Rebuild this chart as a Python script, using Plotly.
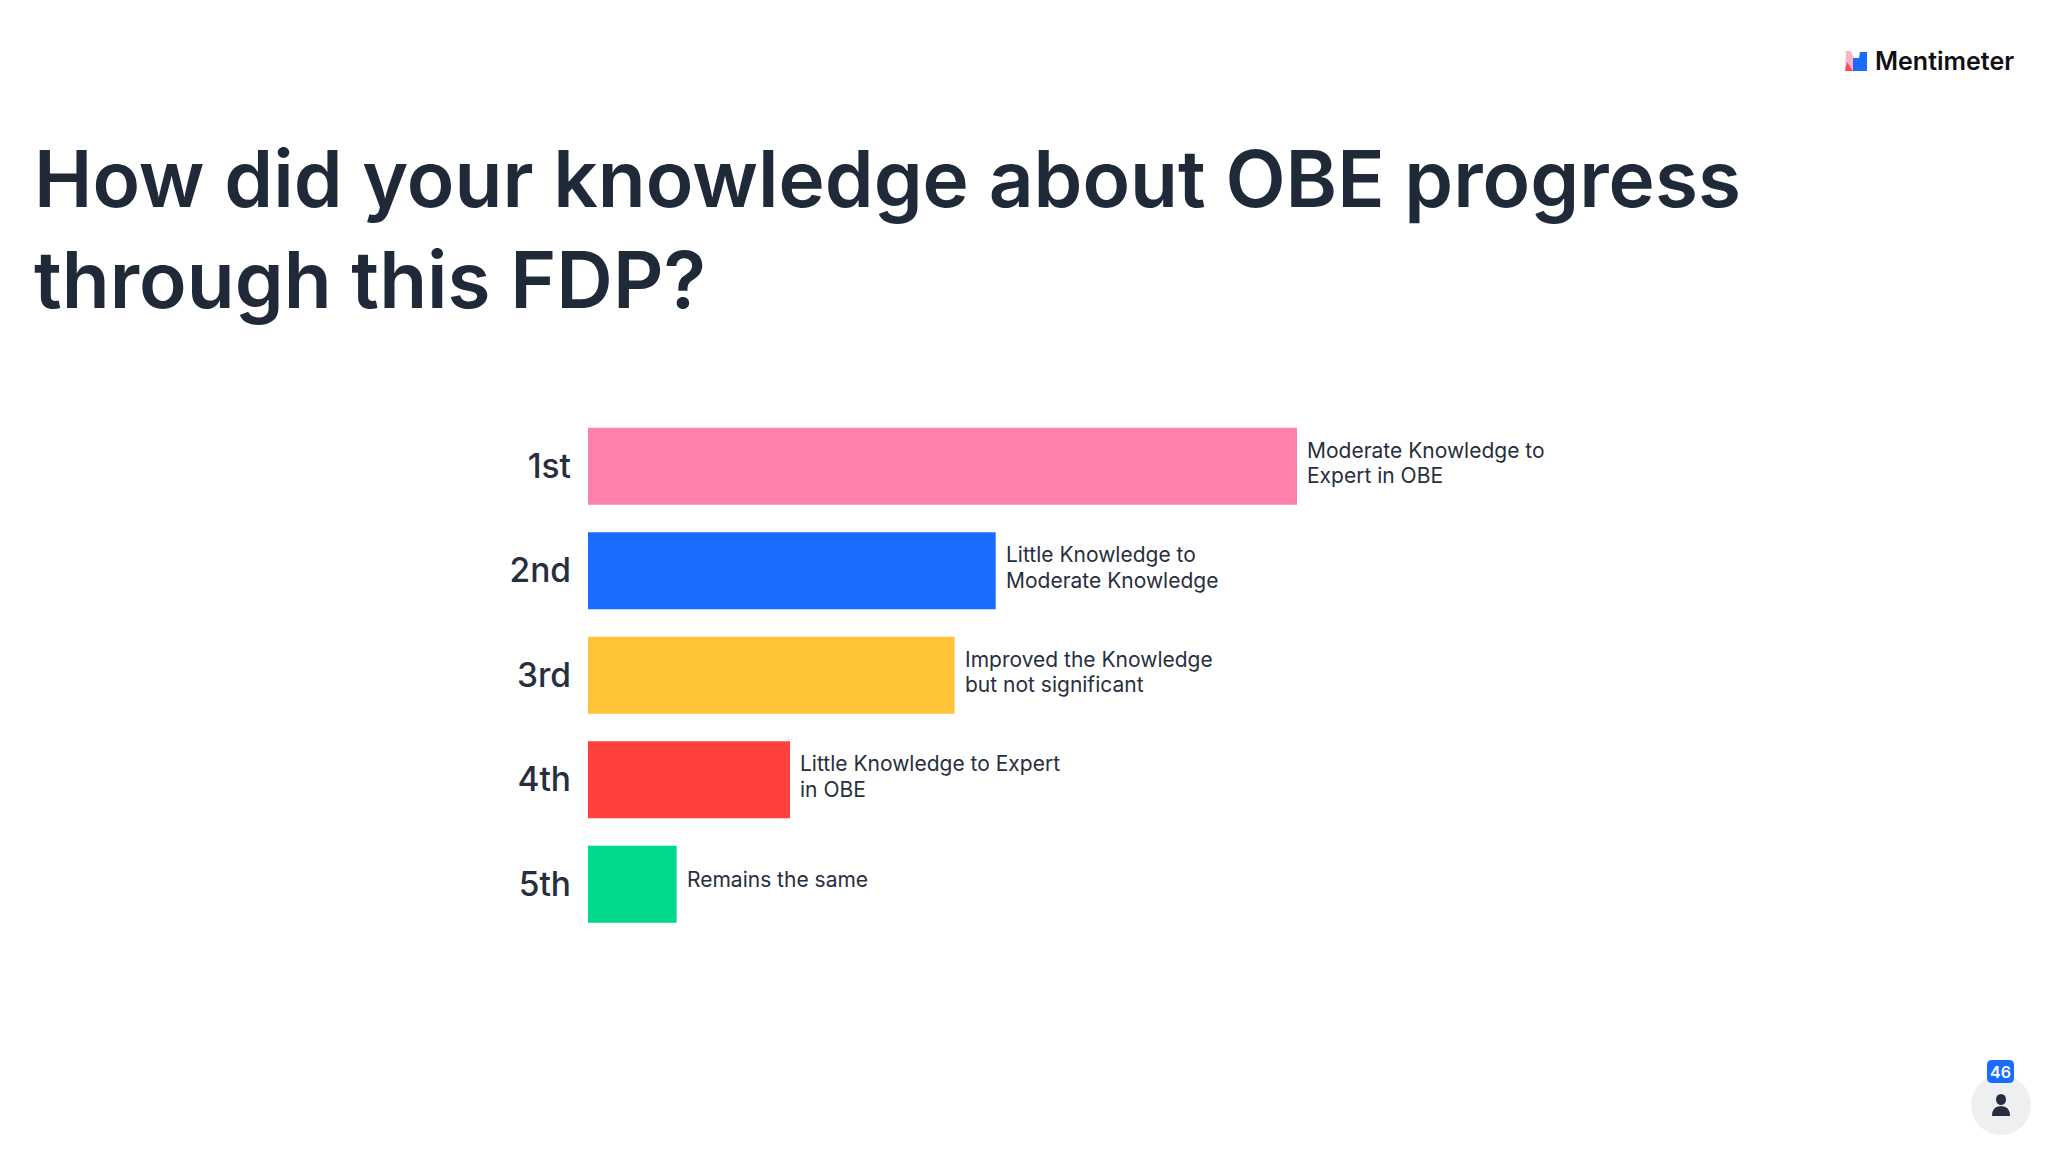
import plotly.graph_objects as go

W, H = 2048, 1152

ranks = ["1st", "2nd", "3rd", "4th", "5th"]
scores = [100.0, 57.5, 51.7, 28.5, 12.5]
label_lines = [
    ["Moderate Knowledge to", "Expert in OBE"],
    ["Little Knowledge to", "Moderate Knowledge"],
    ["Improved the Knowledge", "but not significant"],
    ["Little Knowledge to Expert", "in OBE"],
    ["Remains the same"],
]
colors = ["#ff80ab", "#196cff", "#ffc337", "#ff403d", "#00d98b"]
title_text = "How did your knowledge about OBE progress<br>through this FDP?"
respondents = "46"

FONT = "Inter"
INK = "#272f3e"


def px(x):
    return x / W


def py(y):
    return 1 - y / H


def path(points):
    return "M " + " L ".join(f"{px(x):.5f},{py(y):.5f}" for x, y in points) + " Z"


fig = go.Figure(
    go.Bar(
        x=scores,
        y=ranks,
        orientation="h",
        marker=dict(color=colors, line_width=0),
        width=0.735,
        hoverinfo="skip",
    )
)

annotations = []
for rank, score, lines in zip(ranks, scores, label_lines):
    shifts = [16, -9.5] if len(lines) == 2 else [4.5]
    for line, shift in zip(lines, shifts):
        annotations.append(
            dict(
                x=score, y=rank, xref="x", yref="y", text=line, showarrow=False,
                xanchor="left", yanchor="middle", align="left", xshift=8, yshift=shift,
                font=dict(family=FONT, size=21, color=INK),
            )
        )
annotations += [
    dict(
        x=px(1873), y=py(61.5), xref="paper", yref="paper", text="Mentimeter",
        showarrow=False, xanchor="left", yanchor="middle",
        font=dict(family=FONT, size=25, color="#101014", weight=600),
    ),
    dict(
        x=px(2000.5), y=py(1072), xref="paper", yref="paper", text=respondents,
        showarrow=False, xanchor="center", yanchor="middle",
        font=dict(family=FONT, size=16, color="#ffffff", weight=600),
    ),
]


def rounded(x0, y0, x1, y1, r):
    return (
        f"M {px(x0 + r):.5f},{py(y1):.5f} L {px(x1 - r):.5f},{py(y1):.5f} "
        f"Q {px(x1):.5f},{py(y1):.5f} {px(x1):.5f},{py(y1 - r):.5f} "
        f"L {px(x1):.5f},{py(y0 + r):.5f} Q {px(x1):.5f},{py(y0):.5f} {px(x1 - r):.5f},{py(y0):.5f} "
        f"L {px(x0 + r):.5f},{py(y0):.5f} Q {px(x0):.5f},{py(y0):.5f} {px(x0):.5f},{py(y0 + r):.5f} "
        f"L {px(x0):.5f},{py(y1 - r):.5f} Q {px(x0):.5f},{py(y1):.5f} {px(x0 + r):.5f},{py(y1):.5f} Z"
    )


shapes = [
    dict(type="circle", xref="paper", yref="paper", x0=px(1971), x1=px(2031), y0=py(1135), y1=py(1075),
         fillcolor="#eeeff1", line_width=0, layer="below"),
    dict(type="path", xref="paper", yref="paper", path=rounded(1987, 1060, 2014, 1083, 5),
         fillcolor="#196cff", line_width=0),
    dict(type="circle", xref="paper", yref="paper", x0=px(1996), x1=px(2006), y0=py(1105), y1=py(1094),
         fillcolor=INK, line_width=0),
    dict(type="path", xref="paper", yref="paper",
         path=(f"M {px(1992):.5f},{py(1116):.5f} Q {px(1992):.5f},{py(1106):.5f} {px(2001):.5f},{py(1106):.5f} "
               f"Q {px(2010):.5f},{py(1106):.5f} {px(2010):.5f},{py(1116):.5f} Z"),
         fillcolor=INK, line_width=0),
    dict(type="path", xref="paper", yref="paper", path=path([(1845, 71), (1846, 51), (1851, 51), (1859, 71)]),
         fillcolor="#ffb3c8", line_width=0),
    dict(type="path", xref="paper", yref="paper", path=path([(1845, 71), (1847, 62), (1853, 71)]),
         fillcolor="#ff4d55", line_width=0),
    dict(type="path", xref="paper", yref="paper", path=path([(1853, 71), (1853, 58), (1859, 58), (1860, 52), (1867, 52), (1867, 71)]),
         fillcolor="#196cff", line_width=0),
]

plot_left, plot_right = 588, 1800
plot_top, plot_bottom = 414, 936.5

fig.update_layout(
    width=W,
    height=H,
    margin=dict(l=0, r=0, t=0, b=0),
    paper_bgcolor="#ffffff",
    plot_bgcolor="#ffffff",
    showlegend=False,
    title=dict(
        text=title_text, x=px(34), xanchor="left", xref="paper",
        y=py(206.5), yanchor="top", yref="paper",
        font=dict(family=FONT, size=78.3, color="#1f2938", weight=600),
    ),
    xaxis=dict(
        domain=[px(plot_left), px(plot_right)],
        range=[0, (plot_right - plot_left) / 7.09],
        visible=False,
    ),
    yaxis=dict(
        domain=[py(plot_bottom), py(plot_top)],
        type="category",
        categoryorder="array",
        categoryarray=ranks,
        autorange="reversed",
        showgrid=False,
        zeroline=False,
        showline=False,
        ticks="",
        ticklabelstandoff=16,
        tickfont=dict(family=FONT, size=33.5, color=INK, weight=500),
    ),
    annotations=annotations,
    shapes=shapes,
)

fig.write_html("out.html", config={"displayModeBar": False}, post_script="document.body.style.margin='0';")
